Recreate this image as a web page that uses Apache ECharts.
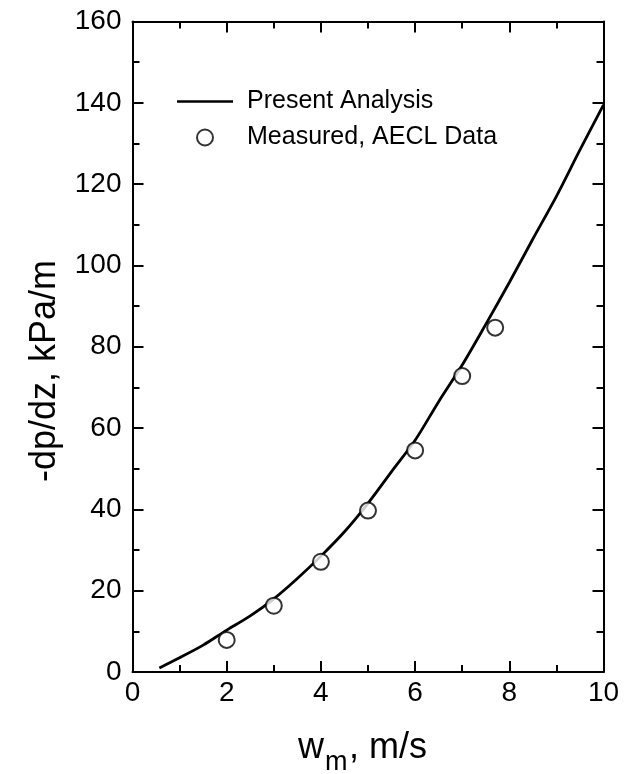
<!DOCTYPE html>
<html>
<head>
<meta charset="utf-8">
<script src="https://cdn.jsdelivr.net/npm/echarts@6/dist/echarts.min.js"></script>
<style>
  html, body { margin: 0; padding: 0; background: #fff; }
  #chart { width: 634px; height: 774px; }
</style>
</head>
<body>
<div id="chart"></div>
<script>
// Present analysis: pressure gradient vs mixture velocity
const analysisW  = [0.57, 1.0, 1.5, 2.0, 2.5, 3.0, 3.5, 4.0, 4.5, 5.0, 5.5, 6.0, 6.5, 7.0, 7.5, 8.0, 8.5, 9.0, 9.5, 10.0];
const analysisDp = [1.0, 3.5, 6.6, 10.3, 13.8, 18.0, 23.0, 28.5, 34.5, 41.5, 49.3, 57.0, 66.5, 75.5, 85.5, 95.8, 106.5, 117.0, 128.4, 139.5];

// Measured AECL data
const measuredW  = [2, 3, 4, 5, 6, 7, 7.7];
const measuredDp = [7.9, 16.3, 27.1, 39.7, 54.5, 72.8, 84.7];

const xTicks = { min: 0, max: 10, interval: 2 };
const yTicks = { min: 0, max: 160, interval: 20 };

const FONT = '"Liberation Sans", Arial, Helvetica, sans-serif';

const zip = (a, b) => a.map((v, i) => [v, b[i]]);

function makeAxis(range, pos, showLabels) {
  return {
    type: 'value',
    position: pos,
    min: range.min,
    max: range.max,
    interval: range.interval,
    axisLine: { show: true, onZero: false, lineStyle: { color: '#000', width: 2 } },
    axisTick: { show: true, inside: true, length: 11, lineStyle: { color: '#000', width: 2 } },
    minorTick: { show: true, splitNumber: 2, length: 7, lineStyle: { color: '#000', width: 2 } },
    splitLine: { show: false },
    axisLabel: {
      show: showLabels,
      color: '#000',
      fontFamily: FONT,
      fontSize: 28,
      margin: (pos === 'left' || pos === 'right') ? 11 : 7
    }
  };
}

const chart = echarts.init(document.getElementById('chart'), null, { renderer: 'canvas' });

chart.setOption({
  backgroundColor: '#fff',
  animation: false,
  grid: { left: 132.5, right: 30.5, top: 21.5, bottom: 102, containLabel: false },
  xAxis: [makeAxis(xTicks, 'bottom', true), makeAxis(xTicks, 'top', false)],
  yAxis: [makeAxis(yTicks, 'left', true), makeAxis(yTicks, 'right', false)],
  legend: {
    show: true,
    orient: 'vertical',
    left: 172,
    top: 84,
    itemWidth: 56,
    itemHeight: 16,
    itemGap: 11,
    selectedMode: false,
    textStyle: { color: '#000', fontFamily: FONT, fontSize: 25, padding: [0, 0, 0, 9] },
    data: [
      { name: 'Present Analysis', icon: 'path://M0,0H56V2.5H0Z', itemStyle: { color: '#000' } },
      { name: 'Measured, AECL Data' }
    ]
  },
  series: [
    {
      name: 'Present Analysis',
      type: 'line',
      data: zip(analysisW, analysisDp),
      smooth: 0.3,
      showSymbol: false,
      symbol: 'none',
      lineStyle: { color: '#000', width: 2.8 },
      itemStyle: { color: '#000' },
      z: 3
    },
    {
      name: 'Measured, AECL Data',
      type: 'scatter',
      data: zip(measuredW, measuredDp),
      symbol: 'circle',
      symbolSize: 16,
      itemStyle: { color: '#fff', borderColor: '#000', borderWidth: 2 },
      z: 4
    }
  ],
  graphic: [
    {
      type: 'text',
      x: 45, y: 371,
      rotation: Math.PI / 2,
      style: {
        text: '-dp/dz, kPa/m',
        font: '36px ' + FONT,
        fill: '#000',
        align: 'center',
        verticalAlign: 'middle'
      }
    },
    {
      type: 'text',
      x: 298, y: 748,
      style: { text: 'w', font: '36px ' + FONT, fill: '#000', align: 'left', verticalAlign: 'middle' }
    },
    {
      type: 'text',
      x: 325, y: 763,
      style: { text: 'm', font: '27px ' + FONT, fill: '#000', align: 'left', verticalAlign: 'middle' }
    },
    {
      type: 'text',
      x: 349, y: 748,
      style: { text: ', m/s', font: '36px ' + FONT, fill: '#000', align: 'left', verticalAlign: 'middle' }
    }
  ]
});
</script>
</body>
</html>
